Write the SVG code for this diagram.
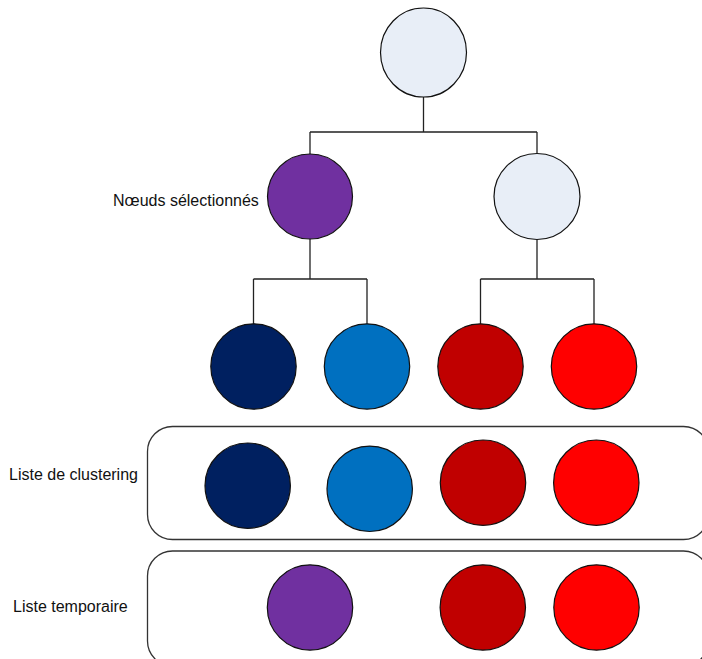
<svg xmlns="http://www.w3.org/2000/svg" width="702" height="659" viewBox="0 0 702 659">
  <style>
    .node { stroke: #111; stroke-width: 1.2; }
    .light { fill: #E8EEF7; }
    .purple { fill: #7030A0; }
    .navy { fill: #002060; }
    .blue { fill: #0070C0; }
    .darkred { fill: #C00000; }
    .red { fill: #FF0000; }
    .wire { fill: none; stroke: #222; stroke-width: 1.3; }
    .panel { fill: none; stroke: #333; stroke-width: 1.3; }
    .label { font-family: "Liberation Sans", Arial, sans-serif; font-size: 16px; fill: #111; }
  </style>
  <rect width="702" height="659" fill="#fff"/>

  <!-- tree connectors -->
  <g id="connectors" class="wire">
    <path d="M423.5 97 V132 M310 132 H537 M310 132 V154 M537 132 V153"/>
    <path d="M310 239 V279 M253.5 279 H367 M253.5 279 V324 M367 279 V324"/>
    <path d="M537 239 V279 M480.5 279 H594 M480.5 279 V324 M594 279 V324"/>
  </g>

  <!-- tree nodes -->
  <g id="root"><ellipse class="node light" cx="423.5" cy="52.5" rx="43" ry="44.5"/></g>
  <g id="selected">
    <circle class="node purple" cx="310" cy="196.5" r="42.5"/>
    <text class="label" x="113" y="206">Nœuds sélectionnés</text>
  </g>
  <g id="right-parent"><circle class="node light" cx="537" cy="196.5" r="43"/></g>
  <g id="leaf-navy"><circle class="node navy" cx="253.5" cy="366.5" r="42.7"/></g>
  <g id="leaf-blue"><circle class="node blue" cx="367" cy="366.5" r="42.7"/></g>
  <g id="leaf-darkred"><circle class="node darkred" cx="480.5" cy="366.5" r="42.7"/></g>
  <g id="leaf-red"><circle class="node red" cx="594" cy="366.5" r="42.7"/></g>

  <!-- clustering list -->
  <g id="clustering-list">
    <rect class="panel" x="147.5" y="426.5" width="561" height="113" rx="25" ry="25"/>
    <text class="label" x="9" y="480">Liste de clustering</text>
    <circle class="node navy" cx="247.7" cy="485.7" r="42.7"/>
    <circle class="node blue" cx="369.7" cy="488.8" r="42.7"/>
    <circle class="node darkred" cx="483" cy="482.7" r="42.7"/>
    <circle class="node red" cx="596.3" cy="482.7" r="42.7"/>
  </g>

  <!-- temporary list -->
  <g id="temporary-list">
    <rect class="panel" x="147.5" y="551" width="561" height="115" rx="25" ry="25"/>
    <text class="label" x="13" y="611.5">Liste temporaire</text>
    <circle class="node purple" cx="310" cy="607.5" r="42.7"/>
    <circle class="node darkred" cx="482.8" cy="607.5" r="42.7"/>
    <circle class="node red" cx="596.5" cy="607.5" r="42.7"/>
  </g>
</svg>
